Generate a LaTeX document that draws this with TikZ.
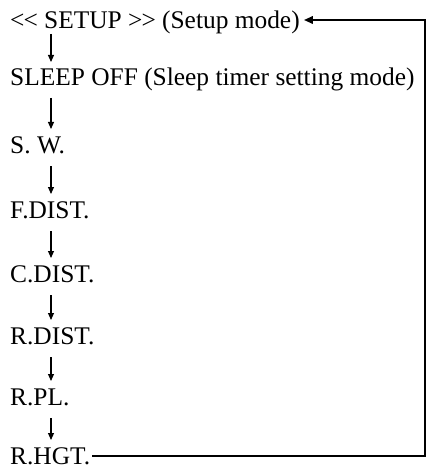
\documentclass[tikz,border=0pt]{standalone}
\usepackage{fontspec}
\setmainfont{Liberation Serif}
\usetikzlibrary{arrows.meta,calc}
\begin{document}
\begin{tikzpicture}[x=1pt,y=1pt,
  lbl/.style={anchor=base west,inner sep=0pt,font=\fontsize{25.4}{30}\selectfont},
  steparrow/.style={-{Triangle[length=7pt,width=6pt]},line width=1.1pt},
  loopline/.style={line width=2pt,line join=miter,-{Triangle[length=9pt,width=7.5pt]}}]
\useasboundingbox (0,0) rectangle (429,-468);
\node[lbl] (setup) at (10,-29) {<\kern-1pt< SETUP >\kern-1pt> (Setup mode)};
\node[lbl] (sleep) at (10,-86) {SLEEP OFF (Sleep timer setting mode)};
\node[lbl] (sw) at (10,-153) {S. W.};
\node[lbl] (fdist) at (10,-218) {F.DIST.};
\node[lbl] (cdist) at (10,-282) {C.DIST.};
\node[lbl] (rdist) at (10,-344) {R.DIST.};
\node[lbl] (rpl) at (10,-405) {R.PL.};
\node[lbl] (rhgt) at (10,-464) {R.HGT.};
\draw[steparrow] ($(setup.base west)+(41,-5)$) -- ($(sleep.base west)+(41,24)$);
\draw[steparrow] ($(sleep.base west)+(41,-12)$) -- ($(sw.base west)+(41,24)$);
\draw[steparrow] ($(sw.base west)+(41,-13)$) -- ($(fdist.base west)+(41,24)$);
\draw[steparrow] ($(fdist.base west)+(41,-13)$) -- ($(cdist.base west)+(41,24)$);
\draw[steparrow] ($(cdist.base west)+(41,-13)$) -- ($(rdist.base west)+(41,24)$);
\draw[steparrow] ($(rdist.base west)+(41,-13)$) -- ($(rpl.base west)+(41,24)$);
\draw[steparrow] ($(rpl.base west)+(41,-13)$) -- ($(rhgt.base west)+(41,24)$);
\coordinate (rt) at (425,0);
\coordinate (loopstart) at ($(rhgt.base east)+(2,8.5)$);
\coordinate (loopend) at ($(setup.base east)+(4,9)$);
\draw[loopline] (loopstart) -- (loopstart -| rt) -- (rt |- loopend) -- (loopend);
\end{tikzpicture}
\end{document}
